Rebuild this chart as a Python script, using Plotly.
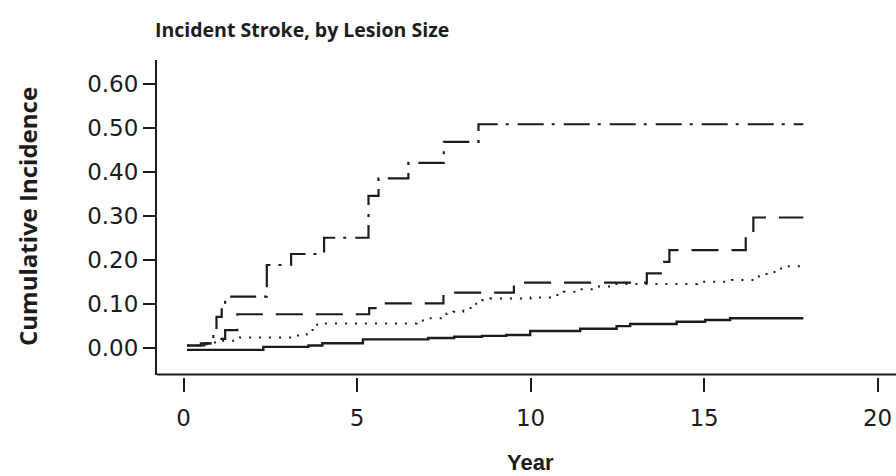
import plotly.graph_objects as go

# ---- data ----
solid_x = [0.1, 2.3, 3.6, 4.0, 5.17, 7.05, 7.8, 8.6, 9.3, 9.99, 11.43, 12.48, 12.87, 14.21, 15.03, 15.75, 17.86]
solid_y = [-0.005, 0.002, 0.005, 0.010, 0.019, 0.022, 0.025, 0.027, 0.029, 0.038, 0.043, 0.049, 0.054, 0.059, 0.063, 0.067, 0.067]

dot_x = [0.1, 0.5, 0.8, 1.1, 1.6, 3.3, 3.55, 3.85, 6.72, 7.0, 7.58, 7.77, 8.06, 8.35, 8.6, 8.83, 10.0, 10.56,
         10.95, 11.43, 11.9, 12.38, 14.8, 15.8, 16.52, 16.8, 17.1, 17.4, 17.86]
dot_y = [0.005, 0.008, 0.012, 0.016, 0.023, 0.030, 0.040, 0.055, 0.062, 0.067, 0.078, 0.082, 0.090, 0.100, 0.108, 0.112, 0.114, 0.120,
         0.127, 0.133, 0.139, 0.145, 0.150, 0.154, 0.162, 0.172, 0.180, 0.185, 0.185]

dash_x = [0.1, 0.6, 0.9, 1.2, 1.55, 5.35, 5.6, 7.49, 9.52, 13.35, 13.85, 14.0, 16.2, 16.42, 17.86]
dash_y = [0.005, 0.010, 0.020, 0.040, 0.076, 0.090, 0.101, 0.125, 0.148, 0.169, 0.195, 0.222, 0.252, 0.296, 0.296]

dd_x = [0.1, 0.5, 0.86, 0.95, 1.1, 1.2, 2.4, 3.1, 4.05, 5.33, 5.62, 6.48, 7.5, 8.5, 17.86]
dd_y = [0.005, 0.010, 0.040, 0.070, 0.100, 0.116, 0.188, 0.213, 0.250, 0.345, 0.385, 0.420, 0.468, 0.508, 0.508]

x_ticks = [0, 5, 10, 15, 20]
y_ticks = [0.0, 0.1, 0.2, 0.3, 0.4, 0.5, 0.6]

title_text = "Incident Stroke, by Lesion Size"
x_title = "Year"
y_title = "Cumulative Incidence"

# ---- figure ----
INK = "#1c1c1c"
W, H = 896, 476
ML, MT, MB = 157, 60, 99
plot_h = H - MT - MB
ydom0 = 2.5 / plot_h

fig = go.Figure()
series = [
    (solid_x, solid_y, "solid", 2.4),
    (dot_x, dot_y, "2px,8px", 2),
    (dash_x, dash_y, "27px,13px", 2.2),
    (dd_x, dd_y, "26px,8px,3px,9px", 2.2),
]
for xs, ys, dash, lw in series:
    fig.add_trace(go.Scatter(x=xs, y=ys, mode="lines", line=dict(color=INK, width=lw, dash=dash, shape="hv"),
                             showlegend=False, hoverinfo="skip"))

tick_font = dict(family="DejaVu Sans", size=23, color=INK)

fig.update_layout(
    width=W, height=H,
    margin=dict(l=ML, r=0, t=MT, b=MB, pad=0),
    paper_bgcolor="white", plot_bgcolor="white",
    xaxis=dict(range=[-0.764, 20.53], tickvals=x_ticks, ticktext=[str(v) for v in x_ticks],
               showgrid=False, zeroline=False, showline=False,
               ticks="outside", ticklen=14, tickwidth=2, tickcolor=INK,
               anchor="free", position=0, tickfont=tick_font, ticklabelstandoff=6),
    yaxis=dict(range=[-0.0609, 0.654], domain=[ydom0, 1], tickvals=y_ticks, tickformat=".2f",
               showgrid=False, zeroline=False, showline=True, linecolor=INK, linewidth=2,
               ticks="outside", ticklen=12, tickwidth=2, tickcolor=INK, tickfont=tick_font,
               ticklabelstandoff=0),
    title=dict(text="<b>" + title_text + "</b>", x=155 / W, xanchor="left", xref="container",
               y=1 - 30 / H, yanchor="middle", yref="container",
               font=dict(family="Open Sans", size=19.5, color=INK)),
)

# x-axis baseline (frame) drawn at the bottom of the y domain
fig.add_shape(type="line", xref="x domain", yref="y domain", x0=0, x1=1, y0=0, y1=0,
              line=dict(color=INK, width=2))

fig.add_annotation(text="<b>" + x_title + "</b>", x=10, xref="x", y=-(462 - (H - MB)) / plot_h, yref="paper",
                   showarrow=False, xanchor="center", yanchor="middle",
                   font=dict(family="Liberation Sans", size=22, color=INK))
fig.add_annotation(text="<b>" + y_title + "</b>", x=(27 - ML) / (W - ML), xref="paper",
                   y=((H - MB) - 217) / plot_h, yref="paper", textangle=-90,
                   showarrow=False, xanchor="center", yanchor="middle",
                   font=dict(family="Open Sans", size=24, color=INK))

fig.write_html("out.html")
